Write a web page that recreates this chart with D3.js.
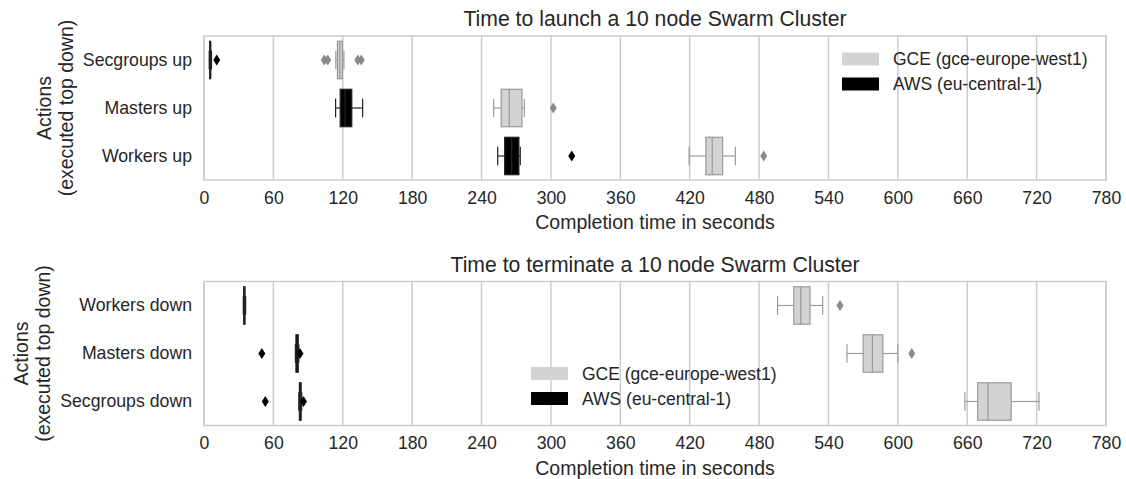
<!DOCTYPE html>
<html>
<head>
<meta charset="utf-8">
<script src="https://cdn.jsdelivr.net/npm/d3@7"></script>
<style>
  body { margin: 0; background: #fff; }
  svg text { font-family: "Liberation Sans", Arial, sans-serif; fill: #262626; }
</style>
</head>
<body>
<svg id="chart" width="1126" height="479"></svg>
<script>
// categories (top to bottom in each panel)
var launchCats = ["Secgroups up", "Masters up", "Workers up"];
var terminateCats = ["Workers down", "Masters down", "Secgroups down"];
var xTicks = [0, 60, 120, 180, 240, 300, 360, 420, 480, 540, 600, 660, 720, 780];
var seriesNames = ["GCE (gce-europe-west1)", "AWS (eu-central-1)"];

// box stats (seconds)
var launchGCE = [
  {cat: "Secgroups up", lo: 114, q1: 115.4, med: 117.4, q3: 119.7, hi: 121, out: [104, 107, 133, 136]},
  {cat: "Masters up",   lo: 250.5, q1: 257, med: 264, q3: 275, hi: 277, out: [302]},
  {cat: "Workers up",   lo: 419.5, q1: 434, med: 439.5, q3: 448.5, hi: 459.5, out: [484]}
];
var launchAWS = [
  {cat: "Secgroups up", lo: 4.5, q1: 5, med: 5.2, q3: 5.6, hi: 6.5, out: [11]},
  {cat: "Masters up",   lo: 113.8, q1: 117.8, med: 122, q3: 127.8, hi: 137.2, out: []},
  {cat: "Workers up",   lo: 254, q1: 260, med: 266, q3: 272.3, hi: 273.5, out: [318]}
];
var terminateGCE = [
  {cat: "Workers down",   lo: 496, q1: 510, med: 516, q3: 524, hi: 535, out: [550]},
  {cat: "Masters down",   lo: 556, q1: 570, med: 578, q3: 587, hi: 600, out: [612]},
  {cat: "Secgroups down", lo: 658, q1: 669, med: 678, q3: 698, hi: 722, out: []}
];
var terminateAWS = [
  {cat: "Workers down",   lo: 34, q1: 34.3, med: 35, q3: 35.5, hi: 36, out: []},
  {cat: "Masters down",   lo: 79, q1: 79.5, med: 80.5, q3: 81.5, hi: 82, out: [50, 83]},
  {cat: "Secgroups down", lo: 82, q1: 82.5, med: 83.2, q3: 84, hi: 84.5, out: [53, 86]}
];

var svg = d3.select("#chart");
var x = d3.scaleLinear().domain([0, 780]).range([204, 1106]);

var styles = {
  gce: {fill: "#d3d3d3", line: "#9a9a9a", flier: "#8a8a8a"},
  aws: {fill: "#000000", line: "#222222", flier: "#000000"}
};

function diamond(g, cx, cy, color) {
  g.append("path")
    .attr("d", "M" + cx + "," + (cy - 5.5) + "L" + (cx + 3.5) + "," + cy + "L" + cx + "," + (cy + 5.5) + "L" + (cx - 3.5) + "," + cy + "Z")
    .attr("fill", color);
}

function drawBoxes(g, y, data, st) {
  var h = y.bandwidth() * 0.78;
  data.forEach(function(d) {
    var cy = y(d.cat) + y.bandwidth() / 2;
    // whiskers + caps
    g.append("line").attr("x1", x(d.lo)).attr("x2", x(d.q1)).attr("y1", cy).attr("y2", cy)
      .attr("stroke", st.line).attr("stroke-width", 1.2);
    g.append("line").attr("x1", x(d.q3)).attr("x2", x(d.hi)).attr("y1", cy).attr("y2", cy)
      .attr("stroke", st.line).attr("stroke-width", 1.2);
    [d.lo, d.hi].forEach(function(v) {
      g.append("line").attr("x1", x(v)).attr("x2", x(v))
        .attr("y1", cy - h / 4).attr("y2", cy + h / 4)
        .attr("stroke", st.line).attr("stroke-width", 1.2);
    });
    g.append("rect")
      .attr("x", x(d.q1)).attr("y", cy - h / 2)
      .attr("width", Math.max(x(d.q3) - x(d.q1), 1)).attr("height", h)
      .attr("fill", st.fill).attr("stroke", st.line).attr("stroke-width", 1.2);
    g.append("line").attr("x1", x(d.med)).attr("x2", x(d.med))
      .attr("y1", cy - h / 2).attr("y2", cy + h / 2)
      .attr("stroke", st.line).attr("stroke-width", 1.2);
    d.out.forEach(function(v) { diamond(g, x(v), cy, st.flier); });
  });
}

function panel(opt) {
  var y = d3.scaleBand().domain(opt.cats).range([opt.top, opt.top + 144]).padding(0);
  var g = svg.append("g");

  // grid
  g.selectAll(".grid").data(xTicks).enter().append("line")
    .attr("x1", function(d) { return x(d); }).attr("x2", function(d) { return x(d); })
    .attr("y1", opt.top).attr("y2", opt.top + 144)
    .attr("stroke", "#cccccc").attr("stroke-width", 1.5);

  // frame
  g.append("rect").attr("x", x(0)).attr("y", opt.top).attr("width", x(780) - x(0)).attr("height", 144)
    .attr("fill", "none").attr("stroke", "#cccccc").attr("stroke-width", 1.5);

  drawBoxes(g, y, opt.gce, styles.gce);
  drawBoxes(g, y, opt.aws, styles.aws);

  // x axis labels
  var ax = g.append("g").attr("transform", "translate(0," + (opt.top + 144) + ")")
    .call(d3.axisBottom(x).tickValues(xTicks).tickSize(0).tickPadding(11));
  ax.select(".domain").remove();
  ax.selectAll("text").style("font-size", "17.7px").style("font-family", "Liberation Sans, Arial, sans-serif").attr("fill", "#262626");

  // y category labels
  var ay = g.append("g").attr("transform", "translate(" + x(0) + ",0)")
    .call(d3.axisLeft(y).tickSize(0).tickPadding(12));
  ay.select(".domain").remove();
  ay.selectAll("text").style("font-size", "17.7px").style("font-family", "Liberation Sans, Arial, sans-serif").attr("fill", "#262626");

  g.append("text").attr("x", (x(0) + x(780)) / 2).attr("y", opt.top + 193)
    .attr("text-anchor", "middle").style("font-size", "19.5px").text("Completion time in seconds");

  g.append("text").attr("x", (x(0) + x(780)) / 2).attr("y", opt.top - 10)
    .attr("text-anchor", "middle").style("font-size", "21.2px").text(opt.title);

  var my = opt.top + 72;
  g.append("text").attr("transform", "translate(" + opt.labX + "," + my + ") rotate(-90)")
    .attr("text-anchor", "middle").style("font-size", "19.5px").text("Actions");
  g.append("text").attr("transform", "translate(" + (opt.labX + 22) + "," + my + ") rotate(-90)")
    .attr("text-anchor", "middle").style("font-size", "19.5px").text("(executed top down)");

  // legend
  var lg = g.append("g");
  [styles.gce.fill, styles.aws.fill].forEach(function(c, i) {
    lg.append("rect").attr("x", opt.legX).attr("y", opt.legY + i * 25 - 6.5)
      .attr("width", 37).attr("height", 13).attr("fill", c);
    lg.append("text").attr("x", opt.legX + 51).attr("y", opt.legY + i * 25 + 6)
      .style("font-size", "17.5px").text(seriesNames[i]);
  });
}

panel({title: "Time to launch a 10 node Swarm Cluster", cats: launchCats, top: 36,
       gce: launchGCE, aws: launchAWS, legX: 842, legY: 59, labX: 51});
panel({title: "Time to terminate a 10 node Swarm Cluster", cats: terminateCats, top: 281.5,
       gce: terminateGCE, aws: terminateAWS, legX: 531, legY: 373.5, labX: 28});
</script>
</body>
</html>
